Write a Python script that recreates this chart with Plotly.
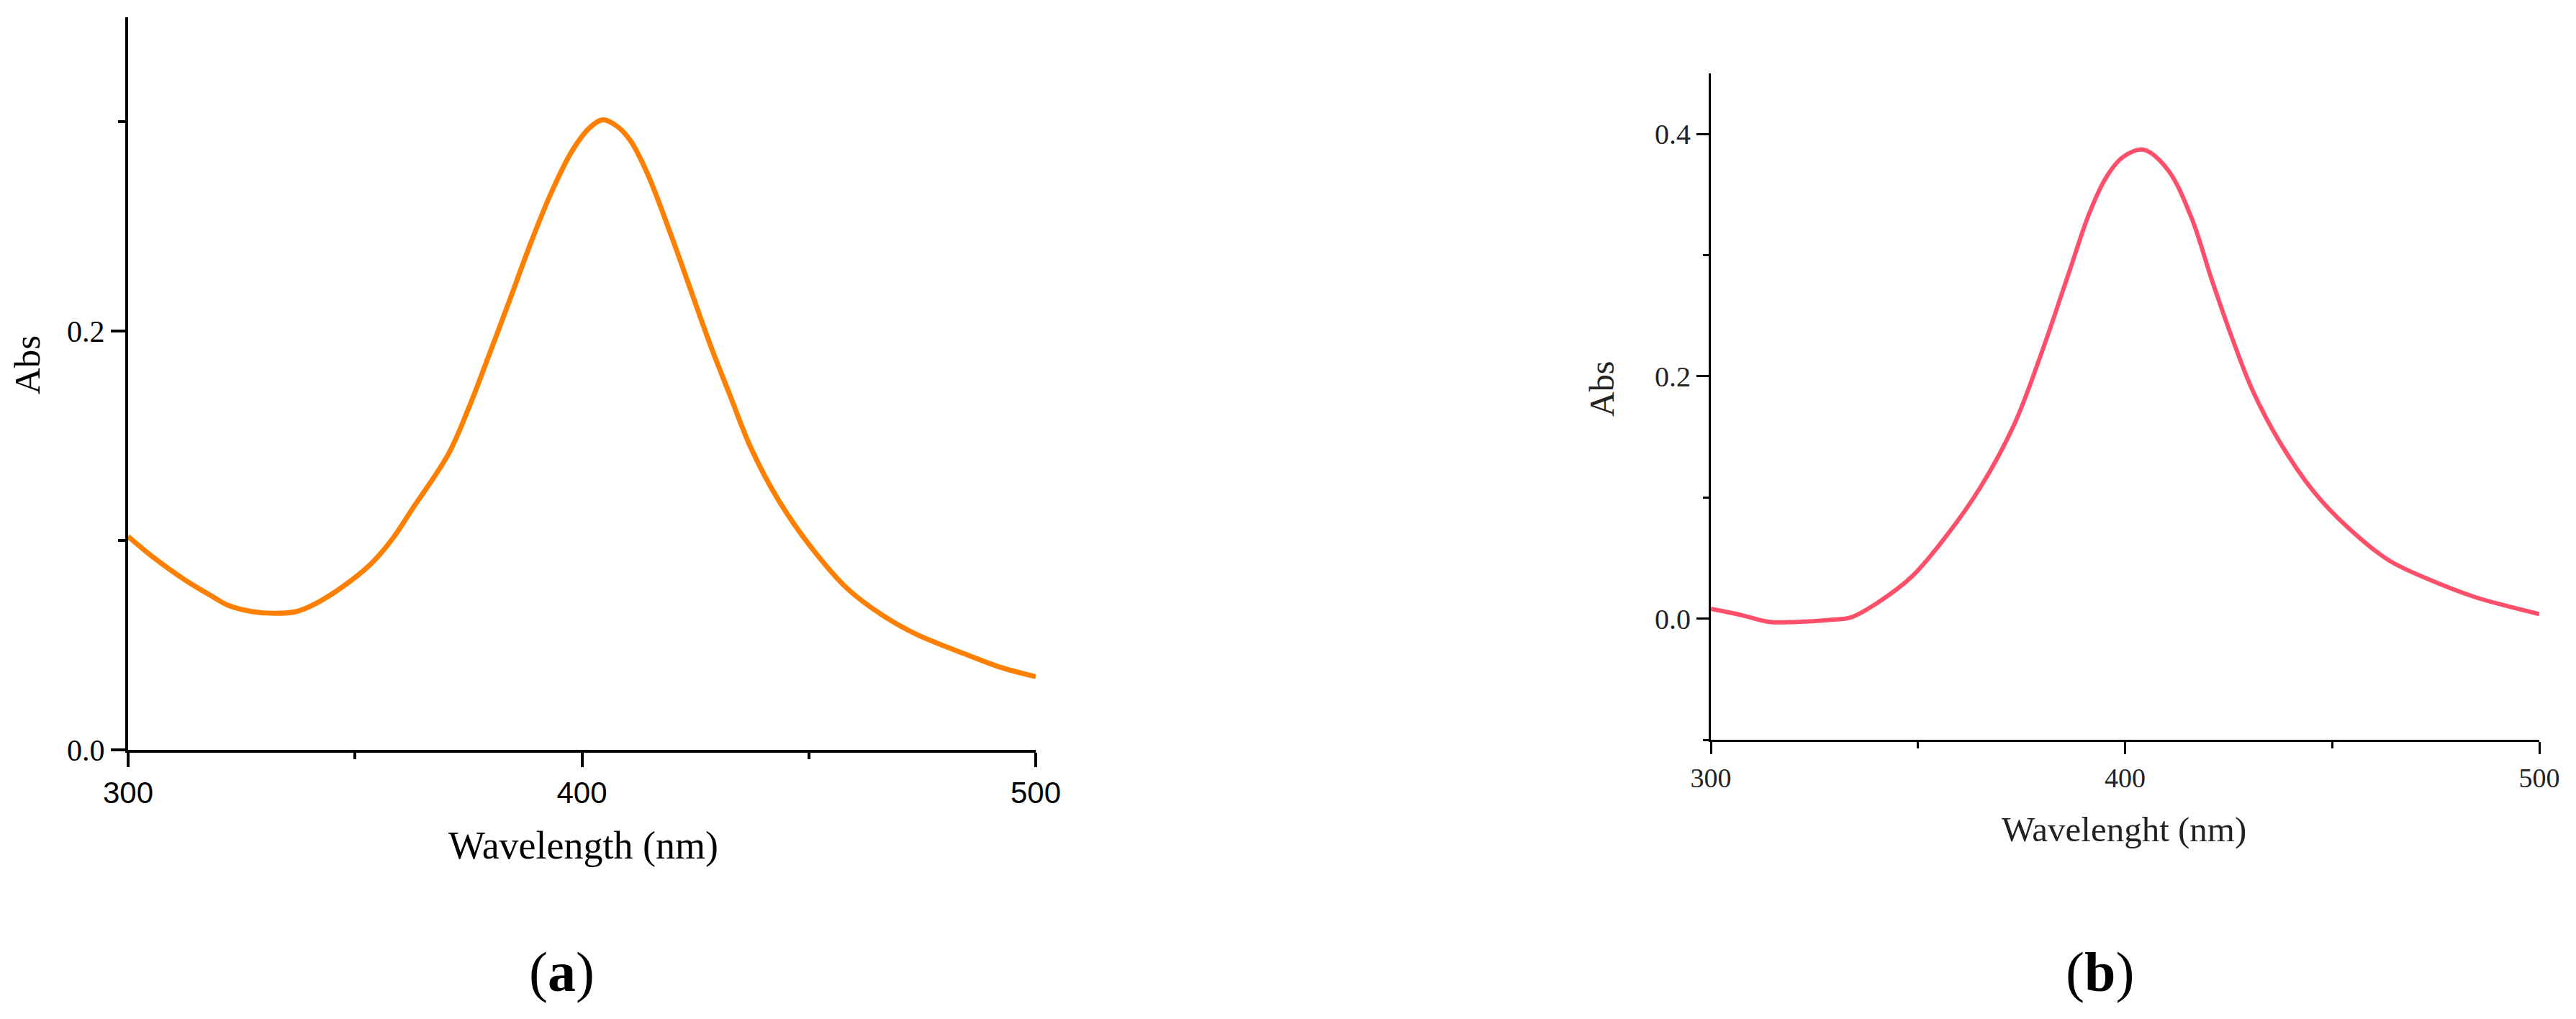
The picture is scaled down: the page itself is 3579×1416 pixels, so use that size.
import plotly.graph_objects as go

# Panel (a) spectrum
wl_a = [300, 305.2, 312.8, 318.8, 321.9, 327.2, 332.5, 337.1, 341.6, 347.7, 353.8,
        358.3, 362.9, 370.5, 375, 379.6, 384.1, 388.7, 393.2, 397.8, 401.6, 404.6,
        407.7, 410.7, 414.5, 419.8, 423.6, 428.2, 432.7, 437.3, 443.4, 450.9, 458.5,
        466.1, 473.7, 484.4, 492, 500]
abs_a = [0.102, 0.0926, 0.0808, 0.073, 0.0692, 0.0661, 0.0652, 0.0661, 0.0702, 0.0786,
         0.0895, 0.101, 0.116, 0.141, 0.163, 0.189, 0.215, 0.242, 0.266, 0.286, 0.297,
         0.301, 0.298, 0.291, 0.275, 0.245, 0.222, 0.194, 0.169, 0.144, 0.119, 0.0957,
         0.077, 0.0645, 0.0552, 0.0458, 0.0396, 0.035]

# Panel (b) spectrum
wl_b = [300, 307.6, 314.1, 320.7, 328.9, 333.8, 340.4, 348.6, 356.8, 365, 373.2, 379.8,
        386.4, 391.3, 395.4, 399.5, 404.4, 410.2, 415.9, 420.9, 425.8, 430.7, 437.3,
        445.5, 453.7, 463.5, 473.4, 484.9, 493.1, 500]
abs_b = [0.0081, 0.0027, -0.0027, -0.0027, -0.001, 0.001, 0.0135, 0.035, 0.068, 0.108,
         0.160, 0.219, 0.285, 0.334, 0.364, 0.381, 0.387, 0.371, 0.332, 0.280, 0.232,
         0.189, 0.146, 0.105, 0.0755, 0.0485, 0.0323, 0.0173, 0.0097, 0.0038]

x_ticks = [300, 400, 500]
x_minor = [350, 450]
ya_ticks = [0, 0.2]
ya_text = ['0.0', '0.2']
ya_minor = [0.1, 0.3]
yb_ticks = [0, 0.2, 0.4]
yb_text = ['0.0', '0.2', '0.4']
yb_minor = [-0.1, 0.1, 0.3]

# page body has an 8px margin, so the figure sits at (8, 8)
OFF = 8
W, H = 3579 - 2 * OFF, 1416 - 2 * OFF


def px(x):
    return (x - OFF) / W


def py(y):
    return 1 - (y - OFF) / H


serif = 'Liberation Serif'
sans = 'Liberation Sans'

fig = go.Figure()
fig.add_trace(go.Scatter(x=wl_a, y=abs_a, mode='lines', xaxis='x', yaxis='y',
                         line=dict(color='#FF8000', width=7, shape='spline', smoothing=1.0),
                         showlegend=False))
fig.add_trace(go.Scatter(x=wl_b, y=abs_b, mode='lines', xaxis='x2', yaxis='y2',
                         line=dict(color='#FF4F6B', width=6, shape='spline', smoothing=1.0),
                         showlegend=False))

common = dict(showgrid=False, zeroline=False, showline=True, linecolor='black',
              ticks='outside', tickcolor='black', automargin=False)

fig.update_layout(
    width=W, height=H,
    margin=dict(l=0, r=0, t=0, b=0, autoexpand=False),
    paper_bgcolor='white', plot_bgcolor='white',
    xaxis=dict(common, domain=[px(178), px(1439)], range=[300, 500], anchor='y',
               linewidth=4, tickwidth=4, ticklen=20,
               tickvals=x_ticks, tickfont=dict(family=sans, size=42, color='black'),
               minor=dict(tickvals=x_minor, ticklen=9, tickwidth=4, tickcolor='black', ticks='outside')),
    yaxis=dict(common, domain=[py(1042), py(24)], range=[0, 0.35], anchor='x',
               linewidth=4, tickwidth=4, ticklen=20,
               tickvals=ya_ticks, ticktext=ya_text,
               tickfont=dict(family=serif, size=42, color='black'),
               minor=dict(tickvals=ya_minor, ticklen=10, tickwidth=4, tickcolor='black', ticks='outside')),
    xaxis2=dict(common, domain=[px(2377), px(3528)], range=[300, 500], anchor='y2',
                linewidth=3, tickwidth=3, ticklen=17,
                tickvals=x_ticks, tickfont=dict(family=serif, size=38, color='#222'),
                minor=dict(tickvals=x_minor, ticklen=9, tickwidth=3, tickcolor='black', ticks='outside')),
    yaxis2=dict(common, domain=[py(1028), py(102)], range=[-0.1, 0.45], anchor='x2',
                linewidth=3, tickwidth=3, ticklen=17,
                tickvals=yb_ticks, ticktext=yb_text,
                tickfont=dict(family=serif, size=40, color='#222'),
                minor=dict(tickvals=yb_minor, ticklen=8, tickwidth=3, tickcolor='black', ticks='outside')),
)

annotations = [
    dict(text='Wavelength (nm)', x=px(810), y=py(1175), font=dict(family=serif, size=54, color='black')),
    dict(text='Abs', x=px(38), y=py(507), textangle=-90, font=dict(family=serif, size=51, color='black')),
    dict(text='Wavelenght (nm)', x=px(2951), y=py(1152), font=dict(family=serif, size=49, color='#222')),
    dict(text='Abs', x=px(2225), y=py(541), textangle=-90, font=dict(family=serif, size=48, color='#222')),
    dict(text='(<b>a</b>)', x=px(780), y=py(1350), font=dict(family=serif, size=78, color='black')),
    dict(text='(<b>b</b>)', x=px(2917), y=py(1350), font=dict(family=serif, size=78, color='black')),
]
for a in annotations:
    a.update(xref='paper', yref='paper', showarrow=False, xanchor='center', yanchor='middle')
fig.update_layout(annotations=annotations)

fig.write_html('out.html')
